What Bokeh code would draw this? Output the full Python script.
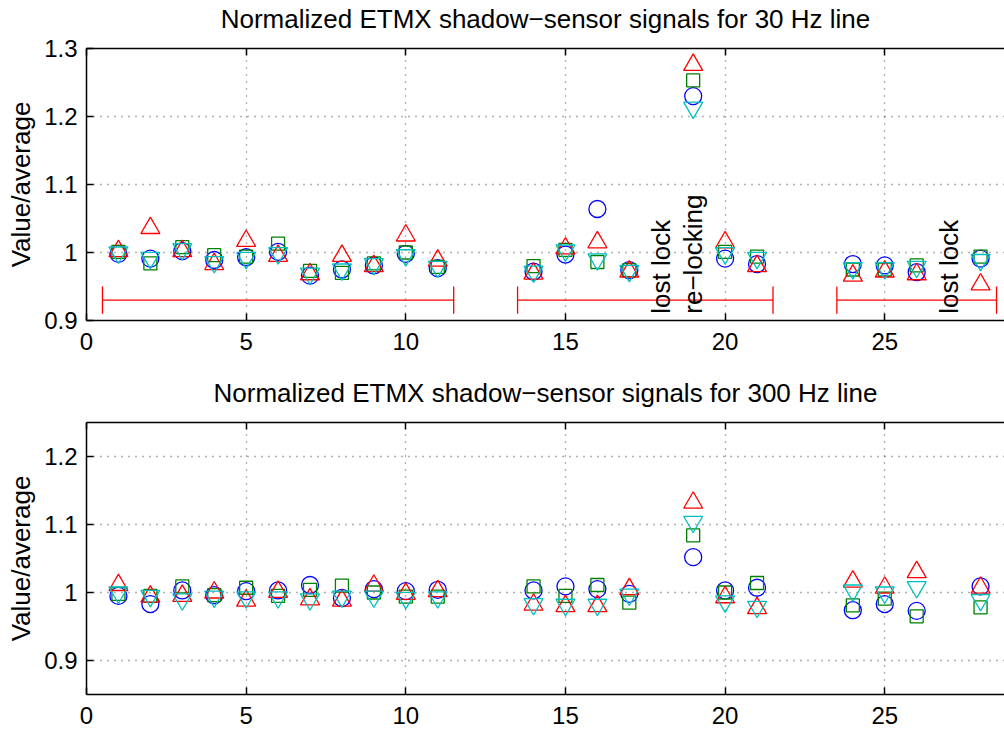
from math import pi
from bokeh.plotting import figure
from bokeh.layouts import column
from bokeh.models import FixedTicker, LinearAxis, Range1d
from bokeh.embed import file_html
from bokeh.resources import INLINE
from bokeh.core.properties import value

FONT = "Liberation Sans"

# ---------------- data ----------------
runs = [1, 2, 3, 4, 5, 6, 7, 8, 9, 10, 11, 14, 15, 16, 17, 19, 20, 21, 24, 25, 26, 28]

# 30 Hz line
hz30_blue  = [0.998, 0.991, 1.002, 0.989, 0.993, 1.001, 0.966, 0.975, 0.981, 0.998, 0.977,
              0.972, 0.997, 1.064, 0.974, 1.230, 0.991, 0.983, 0.983, 0.981, 0.971, 0.991]
hz30_green = [1.001, 0.984, 1.008, 0.996, 0.994, 1.013, 0.973, 0.970, 0.984, 1.000, 0.979,
              0.980, 1.004, 0.986, 0.974, 1.253, 1.001, 0.994, 0.975, 0.975, 0.981, 0.994]
hz30_red   = [1.002, 1.036, 1.002, 0.983, 1.017, 0.995, 0.968, 0.995, 0.980, 1.025, 0.988,
              0.969, 1.006, 1.015, 0.972, 1.276, 1.015, 0.980, 0.966, 0.972, 0.968, 0.953]
hz30_cyan  = [1.000, 0.992, 1.005, 0.986, 0.992, 0.999, 0.969, 0.975, 0.983, 0.996, 0.979,
              0.972, 1.003, 0.990, 0.973, 1.213, 0.999, 0.992, 0.977, 0.977, 0.979, 0.989]

# 300 Hz line
hz300_blue  = [0.995, 0.983, 1.003, 0.996, 1.002, 1.003, 1.011, 0.992, 1.005, 1.002, 1.004,
               1.003, 1.009, 1.005, 0.998, 1.052, 1.003, 1.007, 0.974, 0.983, 0.973, 1.009]
hz300_green = [0.998, 0.995, 1.009, 0.996, 1.007, 0.995, 1.004, 1.010, 1.000, 0.994, 0.994,
               1.009, 0.995, 1.011, 0.985, 1.084, 1.000, 1.014, 0.981, 0.991, 0.965, 0.978]
hz300_red   = [1.011, 0.994, 0.995, 1.000, 0.988, 1.001, 0.990, 0.988, 1.010, 0.998, 1.002,
               0.982, 0.980, 0.980, 1.005, 1.132, 0.993, 0.977, 1.016, 1.007, 1.030, 1.007]
hz300_cyan  = [1.000, 0.995, 0.990, 0.994, 0.993, 0.993, 0.990, 0.994, 0.994, 0.992, 0.993,
               0.983, 0.982, 0.982, 0.997, 1.104, 0.987, 0.979, 1.003, 1.000, 1.008, 0.989]

# lock stretches (red brackets in top panel)
lock_start = [0.5, 13.5, 23.5]
lock_end = [11.5, 21.5, 28.5]
lock_level = [0.93, 0.93, 0.93]
lock_lo = [0.91, 0.91, 0.91]
lock_hi = [0.95, 0.95, 0.95]

note_x = [18, 19, 27]
note_y = [0.91, 0.91, 0.91]
note_text = ["lost lock", "re\u2212locking", "lost lock"]

xticks = [0, 5, 10, 15, 20, 25]
xtick_labels = ["0", "5", "10", "15", "20", "25"]
yticks_top = [0.9, 1.0, 1.1, 1.2, 1.3]
ytick_labels_top = ["0.9", "1", "1.1", "1.2", "1.3"]
yticks_bot = [0.9, 1.0, 1.1, 1.2]
ytick_labels_bot = ["0.9", "1", "1.1", "1.2"]

title_top = "Normalized ETMX shadow\u2212sensor signals for 30 Hz line"
title_bot = "Normalized ETMX shadow\u2212sensor signals for 300 Hz line"
ylabel = "Value/average"

BLUE, GREEN, RED, CYAN = "#0000ff", "#008000", "#ff0000", "#00bfbf"


def make(title, yr, yticks, ylabels, series, height, btop, bbot):
    p = figure(width=1004, height=height, x_range=Range1d(0, 28.75), y_range=Range1d(*yr),
               output_backend="svg", toolbar_location=None,
               min_border_left=86, min_border_right=0, min_border_top=btop, min_border_bottom=bbot,
               outline_line_color=None, background_fill_color="white", border_fill_color="white")

    xb = p.xaxis[0]
    yl = p.yaxis[0]
    for ax in (xb, yl):
        ax.axis_line_width = 1.5
        ax.axis_line_color = "black"
        ax.major_tick_line_width = 1.5
        ax.major_tick_line_color = "black"
        ax.major_tick_in = 7
        ax.major_tick_out = 0
        ax.minor_tick_line_color = None
        ax.major_label_text_font = FONT
        ax.major_label_text_font_size = "24px"
        ax.major_label_text_color = "black"
    xb.ticker = FixedTicker(ticks=xticks)
    xb.major_label_overrides = dict(zip(xticks, xtick_labels))
    xb.major_label_standoff = 12
    yl.ticker = FixedTicker(ticks=yticks)
    yl.major_label_overrides = dict(zip(yticks, ylabels))
    yl.major_label_standoff = 9
    yl.axis_label = ylabel
    yl.axis_label_text_font = FONT
    yl.axis_label_text_font_size = "26px"
    yl.axis_label_text_font_style = "normal"
    yl.axis_label_text_color = "black"
    yl.axis_label_standoff = 5

    # top box edge with inward ticks; the panel title is carried as its label
    top = LinearAxis(ticker=FixedTicker(ticks=xticks), major_label_text_font_size="0px",
                     major_label_text_color=None, major_label_standoff=0,
                     axis_line_width=1.5, axis_line_color="black",
                     major_tick_line_width=1.5, major_tick_line_color="black",
                     major_tick_in=7, major_tick_out=0, minor_tick_line_color=None,
                     axis_label=title, axis_label_text_font=FONT, axis_label_text_font_size="26px",
                     axis_label_text_font_style="normal", axis_label_text_color="black",
                     axis_label_standoff=15)
    p.add_layout(top, "above")

    for g, t in ((p.xgrid, xticks), (p.ygrid, yticks)):
        g.ticker = FixedTicker(ticks=t)
        g.grid_line_color = "#202020"
        g.grid_line_alpha = 0.7
        g.grid_line_dash = "1 6"
        g.grid_line_width = 1.3

    b, gr, r, c = series
    kw = dict(fill_color=None, line_width=1.3)
    p.scatter(runs, b, marker="circle", size=17, line_color=BLUE, **kw)
    p.scatter(runs, gr, marker="square", size=13, line_color=GREEN, **kw)
    p.scatter(runs, r, marker="triangle", size=19, line_color=RED, **kw)
    p.scatter(runs, c, marker="inverted_triangle", size=19, line_color=CYAN, **kw)
    return p


p1 = make(title_top, (0.9, 1.3), yticks_top, ytick_labels_top,
          (hz30_blue, hz30_green, hz30_red, hz30_cyan), 370, 48, 50)
p1.segment(x0=lock_start, y0=lock_level, x1=lock_end, y1=lock_level, line_color=RED, line_width=1.3)
p1.segment(x0=lock_start, y0=lock_lo, x1=lock_start, y1=lock_hi, line_color=RED, line_width=1.3)
p1.segment(x0=lock_end, y0=lock_lo, x1=lock_end, y1=lock_hi, line_color=RED, line_width=1.3)
p1.text(x=note_x, y=note_y, text=note_text, angle=pi / 2, text_align="left", text_baseline="middle",
        text_font=value(FONT), text_font_size="26px", text_color="black")

p2 = make(title_bot, (0.85, 1.25), yticks_bot, ytick_labels_bot,
          (hz300_blue, hz300_green, hz300_red, hz300_cyan), 365, 52, 41)

layout = column(p1, p2, spacing=0)
open("out.html", "w").write(file_html(layout, INLINE))
